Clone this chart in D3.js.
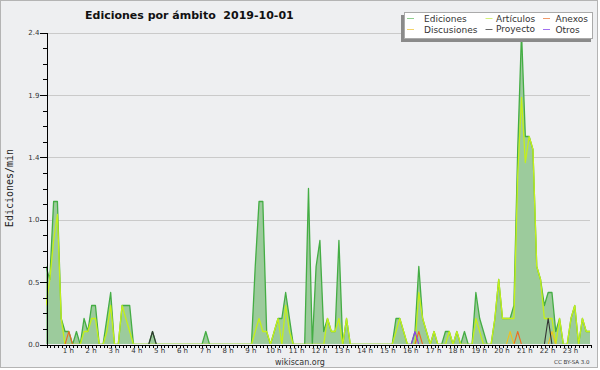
<!DOCTYPE html>
<html lang="es">
<head>
<meta charset="UTF-8">
<title>Ediciones por ámbito 2019-10-01</title>
<script src="https://d3js.org/d3.v7.min.js"></script>
<style>
  body { margin: 0; background: #fff; }
  svg { display: block; font-family: "DejaVu Sans", sans-serif; }
  .axis path, .axis line { stroke: #000; shape-rendering: crispEdges; }
  .axis text { fill: #333; font-size: 7px; font-family: "DejaVu Sans", sans-serif; }
</style>
</head>
<body>
<svg width="600" height="370"></svg>
<script>
  // edits per minute, one value per 10 minutes (144 slots), 4 hours per line
  const ediciones = [
    0.6, 0.5, 1.1, 1.1, 0.2, 0.1,  0.1, 0, 0.1, 0, 0.2, 0.1,  0.3, 0.3, 0, 0, 0.2, 0.4,  0, 0, 0.3, 0.3, 0.3, 0,
    0, 0, 0, 0, 0.1, 0,  0, 0, 0, 0, 0, 0,  0, 0, 0, 0, 0, 0,  0.1, 0, 0, 0, 0, 0,
    0, 0, 0, 0, 0, 0,  0, 0.6, 1.1, 1.1, 0.1, 0,  0.1, 0.2, 0.2, 0.4, 0.2, 0,  0, 0, 0, 1.2, 0, 0.6,
    0.8, 0.1, 0.2, 0.1, 0.1, 0.8,  0, 0.2, 0, 0, 0, 0,  0, 0, 0, 0, 0, 0,  0, 0, 0.2, 0.2, 0.1, 0,
    0, 0.1, 0.6, 0.2, 0.1, 0,  0.1, 0, 0, 0.1, 0.1, 0,  0.1, 0, 0.1, 0, 0, 0.4,  0.2, 0.1, 0, 0, 0.2, 0.5,
    0.2, 0.2, 0.2, 0.3, 1.5, 2.4,  1.6, 1.6, 1.5, 0.6, 0.5, 0.3,  0.4, 0.4, 0.1, 0.2, 0, 0,  0.2, 0.3, 0, 0.2, 0.1, 0.1
  ];
  const articulos = [
    0.3, 0.5, 0.8, 1.0, 0.2, 0,  0, 0, 0, 0, 0.1, 0.1,  0.2, 0.2, 0, 0, 0.1, 0.3,  0, 0, 0.3, 0.2, 0.1, 0,
    0, 0, 0, 0, 0, 0,  0, 0, 0, 0, 0, 0,  0, 0, 0, 0, 0, 0,  0, 0, 0, 0, 0, 0,
    0, 0, 0, 0, 0, 0,  0, 0.1, 0.2, 0.1, 0.1, 0,  0.1, 0.2, 0, 0.3, 0.1, 0,  0, 0, 0, 0, 0, 0,
    0, 0, 0.2, 0.1, 0.1, 0.2,  0, 0.2, 0, 0, 0, 0,  0, 0, 0, 0, 0, 0,  0, 0, 0.1, 0.2, 0.1, 0,
    0, 0, 0.4, 0.2, 0.1, 0,  0.1, 0, 0, 0, 0.1, 0,  0.1, 0, 0, 0, 0, 0.2,  0.1, 0, 0, 0, 0.2, 0.5,
    0.2, 0.2, 0.2, 0.2, 1.3, 1.9,  1.4, 1.6, 1.5, 0.6, 0.5, 0.2,  0.2, 0.2, 0, 0.2, 0, 0,  0.2, 0.3, 0, 0.2, 0.1, 0.1
  ];
  const anexos = [
    0, 0, 0, 0, 0, 0,  0.1, 0, 0, 0, 0, 0,  0, 0, 0, 0, 0, 0,  0, 0, 0, 0, 0, 0,
    0, 0, 0, 0, 0, 0,  0, 0, 0, 0, 0, 0,  0, 0, 0, 0, 0, 0,  0, 0, 0, 0, 0, 0,
    0, 0, 0, 0, 0, 0,  0, 0, 0, 0, 0, 0,  0, 0, 0, 0, 0, 0,  0, 0, 0, 0, 0, 0,
    0, 0, 0, 0, 0, 0,  0, 0, 0, 0, 0, 0,  0, 0, 0, 0, 0, 0,  0, 0, 0, 0, 0, 0,
    0, 0, 0.1, 0, 0, 0,  0, 0, 0, 0, 0, 0,  0, 0, 0, 0, 0, 0,  0, 0, 0, 0, 0, 0,
    0, 0, 0, 0, 0.1, 0,  0, 0, 0, 0, 0, 0,  0, 0, 0, 0, 0, 0,  0, 0, 0, 0, 0, 0
  ];
  const discusiones = [
    0, 0, 0, 0, 0, 0,  0, 0, 0, 0, 0, 0,  0, 0, 0, 0, 0, 0,  0, 0, 0, 0, 0, 0,
    0, 0, 0, 0, 0, 0,  0, 0, 0, 0, 0, 0,  0, 0, 0, 0, 0, 0,  0, 0, 0, 0, 0, 0,
    0, 0, 0, 0, 0, 0,  0, 0, 0, 0, 0, 0,  0, 0, 0, 0, 0, 0,  0, 0, 0, 0, 0, 0,
    0, 0, 0, 0, 0, 0,  0, 0, 0, 0, 0, 0,  0, 0, 0, 0, 0, 0,  0, 0, 0, 0, 0, 0,
    0, 0, 0, 0, 0, 0,  0, 0, 0, 0, 0, 0,  0, 0, 0, 0, 0, 0,  0, 0, 0, 0, 0, 0,
    0, 0, 0.1, 0, 0, 0,  0, 0, 0, 0, 0, 0,  0, 0.1, 0, 0, 0, 0,  0, 0, 0, 0, 0, 0
  ];
  const proyecto = [
    0, 0, 0, 0, 0, 0,  0, 0, 0, 0, 0, 0,  0, 0, 0, 0, 0, 0,  0, 0, 0, 0, 0, 0,
    0, 0, 0, 0, 0.1, 0,  0, 0, 0, 0, 0, 0,  0, 0, 0, 0, 0, 0,  0, 0, 0, 0, 0, 0,
    0, 0, 0, 0, 0, 0,  0, 0, 0, 0, 0, 0,  0, 0, 0, 0, 0, 0,  0, 0, 0, 0, 0, 0,
    0, 0, 0, 0, 0, 0,  0, 0, 0, 0, 0, 0,  0, 0, 0, 0, 0, 0,  0, 0, 0, 0, 0, 0,
    0, 0, 0, 0, 0, 0,  0, 0, 0, 0, 0, 0,  0, 0, 0, 0, 0, 0,  0, 0, 0, 0, 0, 0,
    0, 0, 0, 0, 0, 0,  0, 0, 0, 0, 0, 0,  0.2, 0, 0, 0, 0, 0,  0, 0, 0, 0, 0, 0
  ];
  const otros = [
    0, 0, 0, 0, 0, 0,  0, 0, 0, 0, 0, 0,  0, 0, 0, 0, 0, 0,  0, 0, 0, 0, 0, 0,
    0, 0, 0, 0, 0, 0,  0, 0, 0, 0, 0, 0,  0, 0, 0, 0, 0, 0,  0, 0, 0, 0, 0, 0,
    0, 0, 0, 0, 0, 0,  0, 0, 0, 0, 0, 0,  0, 0, 0, 0, 0, 0,  0, 0, 0, 0, 0, 0,
    0, 0, 0, 0, 0, 0,  0, 0, 0, 0, 0, 0,  0, 0, 0, 0, 0, 0,  0, 0, 0, 0, 0, 0,
    0, 0.1, 0, 0, 0, 0,  0, 0, 0, 0, 0, 0,  0, 0, 0, 0, 0, 0,  0, 0, 0, 0, 0, 0,
    0, 0, 0, 0, 0, 0,  0, 0, 0, 0, 0, 0,  0, 0, 0, 0, 0, 0,  0, 0, 0, 0, 0, 0
  ];

  const hourLabels = ["1 h", "2 h", "3 h", "4 h", "5 h", "6 h", "7 h", "8 h", "9 h", "10 h", "11 h", "12 h",
                      "13 h", "14 h", "15 h", "16 h", "17 h", "18 h", "19 h", "20 h", "21 h", "22 h", "23 h"];
  const yTicks = [0, 0.48, 0.96, 1.44, 1.92, 2.4];

  const series = [
    { name: "Ediciones",   values: ediciones,   color: "#44ad44", legend: "#8fcf8f" },
    { name: "Artículos",   values: articulos,   color: "#c4f01a", legend: "#d4f07a" },
    { name: "Anexos",      values: anexos,      color: "#ee6a22", legend: "#f09a6a" },
    { name: "Discusiones", values: discusiones, color: "#f0c020", legend: "#f4d46a" },
    { name: "Proyecto",    values: proyecto,    color: "#333333", legend: "#666666" },
    { name: "Otros",       values: otros,       color: "#8a3cf0", legend: "#a070f0" }
  ];

  const bg = "#eeeff1";
  const svg = d3.select("svg");

  // canvas + frame
  svg.append("rect")
    .attr("x", 0.5).attr("y", 0.5).attr("width", 597).attr("height", 367)
    .attr("fill", bg).attr("stroke", "#b4b4b4");

  const x = d3.scaleLinear().domain([0, 143]).range([46, 590]);
  const y = d3.scaleLinear().domain([0, 2.4]).range([344.5, 32.5]);

  // grid
  svg.append("g")
    .selectAll("line")
    .data(yTicks.slice(1))
    .join("line")
    .attr("x1", 46).attr("x2", 590)
    .attr("y1", d => Math.round(y(d)) + 0.5)
    .attr("y2", d => Math.round(y(d)) + 0.5)
    .attr("stroke", "#cacaca");

  svg.append("clipPath").attr("id", "plot")
    .append("rect").attr("x", 46).attr("y", 0).attr("width", 546).attr("height", 344);

  const plot = svg.append("g").attr("clip-path", "url(#plot)");

  // Ediciones area
  plot.append("path")
    .datum(ediciones)
    .attr("fill", "#9ccb9c")
    .attr("d", d3.area().x((d, i) => x(i)).y0(y(0)).y1(d => y(d)));

  const line = d3.line().x((d, i) => x(i)).y(d => y(d));
  series.forEach((s, k) => {
    plot.append("path")
      .datum(s.values)
      .attr("fill", "none")
      .attr("stroke", s.color)
      .attr("stroke-width", k < 2 ? 1.3 : 1.1)
      .attr("stroke-linejoin", "round")
      .attr("d", line);
  });

  // y axis: minor then major
  svg.append("g").attr("class", "axis")
    .attr("transform", "translate(46.5,0)")
    .call(d3.axisLeft(y).tickValues(d3.range(21).map(k => k * 0.12)).tickSize(4).tickSizeOuter(0).tickFormat(""));
  svg.append("g").attr("class", "axis")
    .attr("transform", "translate(46.5,0)")
    .call(d3.axisLeft(y).tickValues(yTicks).tickSize(7).tickSizeOuter(0).tickPadding(0).tickFormat(d3.format(".1f")))
    .call(g => g.select(".domain").remove());

  // x axis: 10-minute ticks, hour labels
  svg.append("g").attr("class", "axis")
    .attr("transform", "translate(0,344.5)")
    .call(d3.axisBottom(x).tickValues(d3.range(144)).tickSize(3).tickSizeOuter(0).tickFormat(""))
    .call(g => g.selectAll(".tick line").attr("transform", "translate(0.5,0)"));
  svg.append("g").attr("class", "axis")
    .attr("transform", "translate(0,344.5)")
    .call(d3.axisBottom(x).tickValues(hourLabels.map((d, i) => (i + 1) * 6)).tickSize(0).tickPadding(4)
      .tickFormat((d, i) => hourLabels[i]))
    .call(g => g.select(".domain").remove())
    .call(g => g.selectAll("text").attr("dx", -1));

  // title
  svg.append("text")
    .attr("x", 85).attr("y", 18.5)
    .attr("font-size", 11).attr("font-weight", "bold").attr("fill", "#111")
    .attr("xml:space", "preserve")
    .text("Ediciones por ámbito  2019-10-01");

  // y label
  svg.append("text")
    .attr("transform", "translate(12.5,188) rotate(-90)")
    .attr("text-anchor", "middle")
    .attr("font-family", "'DejaVu Sans Mono', monospace")
    .attr("font-size", 10).attr("fill", "#222")
    .text("Ediciones/min");

  // footer
  svg.append("text")
    .attr("x", 300).attr("y", 364.5).attr("text-anchor", "middle")
    .attr("font-size", 8).attr("fill", "#333")
    .text("wikiscan.org");
  svg.append("text")
    .attr("x", 589.5).attr("y", 364).attr("text-anchor", "end")
    .attr("font-size", 5.5).attr("fill", "#333")
    .text("CC BY-SA 3.0");

  // legend
  const legend = svg.append("g");
  legend.append("rect")
    .attr("x", 401).attr("y", 15).attr("width", 190).attr("height", 27)
    .attr("fill", "#8a8a8a");
  legend.append("rect")
    .attr("x", 404.5).attr("y", 12.5).attr("width", 188).attr("height", 26)
    .attr("fill", "#fff").attr("stroke", "#aaa");

  const colX = [407, 485.5, 543];
  const rowY = [21.8, 33];
  const markY = [18.5, 29.5];
  series.forEach((s, k) => {
    const col = k % 3, row = Math.floor(k / 3);
    const cx = colX[col];
    legend.append("line")
      .attr("x1", cx).attr("x2", cx + 7)
      .attr("y1", markY[row]).attr("y2", markY[row])
      .attr("stroke", s.legend).attr("stroke-width", 1);
    legend.append("text")
      .attr("x", cx + (col === 2 ? 12.5 : col === 1 ? 10.5 : 17))
      .attr("y", k === 4 ? 32.3 : rowY[row])
      .attr("font-size", 9).attr("fill", "#333")
      .text(s.name);
  });
</script>
</body>
</html>
